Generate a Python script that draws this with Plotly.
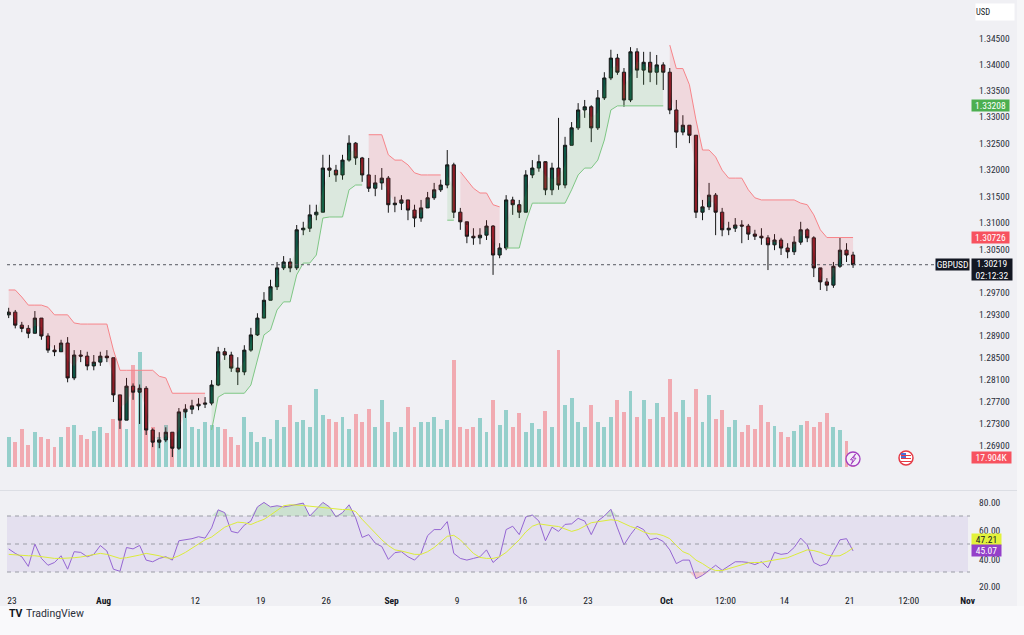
import math
import plotly.graph_objects as go

# ---------------- DATA (GBPUSD, 12h bars) ----------------
open_ = [1.2929, 1.2934, 1.2910, 1.2904, 1.2895, 1.2923, 1.2890, 1.2864, 1.2861, 1.2877,
         1.2813, 1.2855, 1.2853, 1.2835, 1.2842, 1.2853, 1.2850, 1.2782, 1.2736, 1.2798,
         1.2787, 1.2794, 1.2718, 1.2696, 1.2700, 1.2714, 1.2685, 1.2751, 1.2756, 1.2762,
         1.2765, 1.2767, 1.2800, 1.2861, 1.2855, 1.2831, 1.2824, 1.2864, 1.2892, 1.2923,
         1.2956, 1.2981, 1.3016, 1.3027, 1.3016, 1.3087, 1.3090, 1.3115, 1.3120, 1.3203,
         1.3199, 1.3190, 1.3218, 1.3250, 1.3222, 1.3190, 1.3165, 1.3175, 1.3184, 1.3134,
         1.3137, 1.3143, 1.3124, 1.3109, 1.3128, 1.3147, 1.3162, 1.3171, 1.3209, 1.3120,
         1.3102, 1.3075, 1.3072, 1.3077, 1.3094, 1.3040, 1.3053, 1.3143, 1.3134, 1.3120,
         1.3190, 1.3203, 1.3215, 1.3162, 1.3203, 1.3171, 1.3246, 1.3279, 1.3313, 1.3319,
         1.3279, 1.3336, 1.3374, 1.3412, 1.3385, 1.3332, 1.3424, 1.3389, 1.3404, 1.3385,
         1.3399, 1.3385, 1.3313, 1.3271, 1.3284, 1.3265, 1.3120, 1.3130, 1.3152, 1.3120,
         1.3087, 1.3090, 1.3096, 1.3094, 1.3079, 1.3075, 1.3072, 1.3059, 1.3068, 1.3053,
         1.3046, 1.3064, 1.3087, 1.3072, 1.3016, 1.2990, 1.2984, 1.3019, 1.3049, 1.3040]
high = [1.2942, 1.2938, 1.2916, 1.2910, 1.2936, 1.2923, 1.2895, 1.2873, 1.2883, 1.2888,
        1.2864, 1.2864, 1.2861, 1.2855, 1.2861, 1.2864, 1.2850, 1.2782, 1.2813, 1.2803,
        1.2801, 1.2798, 1.2721, 1.2714, 1.2723, 1.2714, 1.2758, 1.2765, 1.2773, 1.2776,
        1.2778, 1.2809, 1.2870, 1.2868, 1.2861, 1.2851, 1.2873, 1.2905, 1.2932, 1.2971,
        1.2994, 1.3027, 1.3038, 1.3034, 1.3096, 1.3102, 1.3134, 1.3134, 1.3228, 1.3228,
        1.3209, 1.3228, 1.3265, 1.3252, 1.3224, 1.3222, 1.3190, 1.3203, 1.3188, 1.3149,
        1.3152, 1.3143, 1.3134, 1.3143, 1.3158, 1.3175, 1.3181, 1.3237, 1.3213, 1.3128,
        1.3096, 1.3090, 1.3090, 1.3105, 1.3096, 1.3062, 1.3152, 1.3149, 1.3143, 1.3199,
        1.3218, 1.3228, 1.3213, 1.3213, 1.3298, 1.3262, 1.3290, 1.3326, 1.3332, 1.3322,
        1.3351, 1.3385, 1.3428, 1.3420, 1.3393, 1.3433, 1.3431, 1.3424, 1.3424, 1.3418,
        1.3404, 1.3393, 1.3332, 1.3303, 1.3284, 1.3265, 1.3143, 1.3175, 1.3156, 1.3128,
        1.3102, 1.3109, 1.3105, 1.3098, 1.3087, 1.3090, 1.3077, 1.3079, 1.3072, 1.3062,
        1.3075, 1.3102, 1.3090, 1.3075, 1.3012, 1.2997, 1.3027, 1.3072, 1.3062, 1.3046]
low = [1.2923, 1.2904, 1.2897, 1.2886, 1.2895, 1.2883, 1.2859, 1.2853, 1.2861, 1.2805,
       1.2809, 1.2842, 1.2827, 1.2827, 1.2835, 1.2842, 1.2769, 1.2720, 1.2736, 1.2773,
       1.2729, 1.2709, 1.2687, 1.2685, 1.2696, 1.2669, 1.2682, 1.2740, 1.2747, 1.2754,
       1.2758, 1.2763, 1.2798, 1.2846, 1.2824, 1.2800, 1.2818, 1.2861, 1.2890, 1.2923,
       1.2956, 1.2975, 1.3012, 1.3008, 1.3012, 1.3077, 1.3083, 1.3105, 1.3120, 1.3186,
       1.3177, 1.3181, 1.3215, 1.3209, 1.3177, 1.3158, 1.3150, 1.3162, 1.3119, 1.3120,
       1.3124, 1.3105, 1.3092, 1.3102, 1.3128, 1.3143, 1.3158, 1.3165, 1.3109, 1.3087,
       1.3062, 1.3059, 1.3060, 1.3068, 1.3003, 1.3034, 1.3049, 1.3115, 1.3109, 1.3120,
       1.3184, 1.3196, 1.3152, 1.3152, 1.3162, 1.3165, 1.3246, 1.3275, 1.3298, 1.3252,
       1.3275, 1.3332, 1.3370, 1.3380, 1.3319, 1.3328, 1.3374, 1.3361, 1.3366, 1.3361,
       1.3351, 1.3305, 1.3241, 1.3265, 1.3250, 1.3109, 1.3105, 1.3124, 1.3077, 1.3075,
       1.3077, 1.3083, 1.3062, 1.3068, 1.3068, 1.3059, 1.3012, 1.3049, 1.3040, 1.3034,
       1.3040, 1.3059, 1.3064, 1.2999, 1.2975, 1.2973, 1.2979, 1.3016, 1.3027, 1.3016]
close = [1.2934, 1.2910, 1.2904, 1.2895, 1.2923, 1.2890, 1.2864, 1.2861, 1.2877, 1.2813,
         1.2855, 1.2853, 1.2835, 1.2842, 1.2853, 1.2850, 1.2782, 1.2736, 1.2798, 1.2787,
         1.2794, 1.2718, 1.2696, 1.2700, 1.2714, 1.2685, 1.2751, 1.2756, 1.2762, 1.2765,
         1.2767, 1.2800, 1.2861, 1.2855, 1.2831, 1.2824, 1.2864, 1.2892, 1.2923, 1.2956,
         1.2981, 1.3016, 1.3027, 1.3016, 1.3087, 1.3090, 1.3115, 1.3120, 1.3203, 1.3199,
         1.3190, 1.3218, 1.3250, 1.3222, 1.3190, 1.3165, 1.3175, 1.3184, 1.3134, 1.3137,
         1.3143, 1.3124, 1.3109, 1.3128, 1.3147, 1.3162, 1.3171, 1.3209, 1.3120, 1.3102,
         1.3075, 1.3072, 1.3077, 1.3094, 1.3040, 1.3053, 1.3143, 1.3134, 1.3120, 1.3190,
         1.3203, 1.3215, 1.3162, 1.3203, 1.3171, 1.3246, 1.3279, 1.3313, 1.3319, 1.3279,
         1.3336, 1.3374, 1.3412, 1.3385, 1.3332, 1.3424, 1.3389, 1.3404, 1.3385, 1.3399,
         1.3385, 1.3313, 1.3271, 1.3284, 1.3265, 1.3120, 1.3130, 1.3152, 1.3120, 1.3087,
         1.3090, 1.3096, 1.3094, 1.3079, 1.3075, 1.3072, 1.3059, 1.3068, 1.3053, 1.3046,
         1.3064, 1.3087, 1.3072, 1.3016, 1.2990, 1.2984, 1.3019, 1.3049, 1.3040, 1.30219]

volume_k = [54, 45, 68, 40, 63, 54, 50, 36, 54, 72,
            76, 58, 50, 65, 72, 61, 86, 99, 68, 184,
            207, 81, 72, 54, 76, 63, 86, 103, 72, 68,
            81, 76, 72, 68, 54, 40, 90, 63, 45, 54,
            50, 85, 72, 112, 81, 85, 72, 140, 94, 86,
            81, 90, 68, 95, 81, 104, 72, 121, 81, 63,
            72, 108, 72, 81, 81, 90, 68, 85, 193, 72,
            68, 72, 88, 63, 121, 76, 103, 72, 97, 63,
            79, 68, 101, 72, 211, 112, 124, 81, 72, 112,
            81, 72, 90, 121, 99, 137, 90, 121, 86, 115,
            90, 158, 99, 121, 90, 140, 81, 130, 86, 103,
            72, 85, 63, 76, 68, 112, 81, 74, 63, 54,
            65, 76, 83, 72, 81, 97, 72, 67, 47, 17.904]

N_ = None
supertrend_up = [N_] * 31 + [1.2718, 1.2778, 1.2785, 1.2785, 1.2785, 1.2785, 1.2800, 1.2846, 1.2892,
                             1.2901, 1.2938, 1.2953, 1.2953, 1.3003, 1.3025, 1.3025, 1.3040, 1.3109, 1.3111,
                             1.3111, 1.3111, 1.3162, 1.3171, 1.3171] \
    + [N_] * 12 + [1.3105, 1.3105] + [N_] * 7 \
    + [1.3053, 1.3053, 1.3053, 1.3102, 1.3137, 1.3137, 1.3137, 1.3137, 1.3137, 1.3137,
       1.3162, 1.3190, 1.3203, 1.3203, 1.3218, 1.3256, 1.3313, 1.33208, 1.33208, 1.33208,
       1.33208, 1.33208, 1.33208, 1.33208, 1.33208] + [N_] * 29
supertrend_dn = [1.2975, 1.2975, 1.2962, 1.2947, 1.2947, 1.2947, 1.2943, 1.2929, 1.2929, 1.2929,
                 1.2914, 1.2912, 1.2912, 1.2912, 1.2912, 1.2912, 1.2864, 1.2827, 1.2827, 1.2827,
                 1.2827, 1.2827, 1.2827, 1.2816, 1.2813, 1.2785, 1.2785, 1.2785, 1.2785, 1.2785,
                 1.2785] + [N_] * 24 \
    + [1.3266, 1.3266, 1.3266, 1.3228, 1.3218, 1.3218, 1.3209, 1.3194, 1.3190, 1.3190,
       1.3190, 1.3190] + [N_] * 2 \
    + [1.3196, 1.3181, 1.3165, 1.3156, 1.3156, 1.3134, 1.3130] + [N_] * 25 \
    + [1.3437, 1.3392, 1.3392, 1.3361, 1.3294, 1.3237, 1.3237, 1.3224, 1.3199, 1.3184,
       1.3184, 1.3184, 1.3162, 1.3147, 1.3143, 1.3143, 1.3143, 1.3143, 1.3143, 1.3143,
       1.3137, 1.3134, 1.3115, 1.3087, 1.30726, 1.30726, 1.30726, 1.30726, 1.30726]

rsi = [46.5, 43.3, 40.9, 34.0, 50.0, 39.7, 34.8, 36.8, 41.6, 32.0,
       44.5, 44.0, 40.9, 42.6, 48.9, 45.0, 32.0, 30.5, 47.5, 46.5,
       49.0, 38.5, 37.3, 39.7, 40.9, 38.5, 52.3, 53.0, 53.8, 55.2,
       54.2, 61.5, 74.4, 72.4, 59.0, 57.9, 63.5, 66.4, 76.5, 79.7,
       76.5, 77.3, 76.5, 77.3, 78.5, 79.2, 70.0, 74.8, 79.7, 76.5,
       69.3, 72.4, 78.0, 68.8, 54.7, 56.7, 50.6, 48.2, 39.0, 43.8,
       44.5, 40.9, 38.5, 43.3, 56.0, 60.3, 60.3, 66.0, 43.3, 39.7,
       38.5, 39.7, 40.9, 45.8, 36.8, 40.9, 60.3, 62.7, 56.7, 69.3,
       70.7, 66.4, 52.3, 62.0, 59.0, 64.0, 64.4, 68.3, 66.4, 56.7,
       66.4, 70.0, 74.8, 61.5, 49.4, 56.7, 62.7, 60.3, 53.0, 54.2,
       51.8, 45.8, 36.0, 38.5, 38.5, 25.2, 27.6, 31.2, 34.8, 31.2,
       34.4, 37.3, 37.3, 36.8, 35.3, 37.3, 33.0, 44.0, 42.6, 43.3,
       47.5, 54.2, 49.4, 36.8, 34.4, 36.0, 44.5, 53.0, 53.8, 45.07]
rsi_ma = [42.6, 42.1, 41.6, 41.6, 41.6, 40.9, 40.2, 39.7, 39.7, 39.7,
          40.2, 40.7, 41.4, 42.6, 43.3, 42.6, 40.9, 39.7, 40.2, 40.9,
          42.1, 43.3, 42.6, 41.6, 40.2, 39.7, 41.6, 44.0, 47.0, 49.9,
          53.0, 55.0, 58.6, 62.0, 63.9, 65.6, 65.2, 63.9, 65.9, 67.6,
          70.7, 74.1, 77.3, 78.0, 78.0, 77.5, 77.0, 76.5, 76.0, 75.3,
          74.8, 74.6, 74.6, 73.2, 67.6, 62.7, 57.9, 53.0, 48.9, 45.8,
          45.0, 44.0, 42.6, 42.6, 44.5, 47.5, 51.8, 55.5, 56.2, 53.0,
          48.2, 43.3, 40.4, 39.7, 39.7, 40.9, 44.0, 48.2, 53.0, 58.6,
          62.7, 64.4, 63.5, 63.0, 62.5, 61.0, 59.0, 60.3, 62.7, 65.2,
          65.9, 66.4, 67.3, 66.8, 64.4, 62.5, 61.0, 58.6, 57.2, 57.2,
          56.0, 53.8, 48.9, 44.5, 42.6, 38.5, 36.0, 32.9, 31.0, 31.0,
          32.4, 33.6, 34.8, 36.5, 36.8, 36.8, 37.8, 38.5, 39.2, 40.2,
          42.1, 44.0, 45.8, 45.3, 44.0, 42.1, 41.4, 41.6, 44.0, 47.21]

time_tick_pos = [0, 7, 14, 19, 24, 29, 34, 39, 44, 50, 54.5, 59, 64, 68.5, 73]
time_tick_text = ["23", "<b>Aug</b>", "12", "19", "26", "<b>Sep</b>", "9", "16", "23",
                  "<b>Oct</b>", "12:00", "14", "21", "12:00", "<b>Nov</b>"]
price_ticks = [1.345, 1.340, 1.335, 1.330, 1.325, 1.320, 1.315, 1.310, 1.305,
               1.297, 1.293, 1.289, 1.285, 1.281, 1.277, 1.273, 1.269]
rsi_ticks = [80, 60, 40, 20]
last_price = 1.30219
last_up = 1.33208
last_dn = 1.30726
last_volume = "17.904K"
countdown = "02:12:32"

# ---------------- LAYOUT GEOMETRY ----------------
W, H = 1024, 635
ML, MR, MT, MB = 7, 56, 0, 42
PW, PH = W - ML - MR, H - MT - MB


def px2x(px):
    return (px - ML) / PW


def py2y(py):
    return (H - MB - py) / PH


BG = "#f0f0f4"
FONT = "Liberation Sans Narrow, Roboto Condensed, Roboto, Arial, sans-serif"
XR = [-0.38, 73.03]
MAIN_D0 = (H - MB - 489) / PH
RSI_D1 = (H - MB - 492) / PH
P_TOP = 1.345 * math.exp(38.3 / 7000)
P_BOT = 1.345 * math.exp(-(489 - 38.3) / 7000)
VOL_RANGE = [-22 * 1.8, 467 * 1.8]
RSI_RANGE = [15.0, 87.14]

n = len(close)
t = [-0.25 + 0.5 * i for i in range(n)]
mid = [(o + c) / 2 for o, c in zip(open_, close)]

fig = go.Figure()

# volume (base axis, drawn under price)
vol_colors = ["rgba(38,166,154,0.45)" if c >= o else "rgba(242,54,69,0.38)"
              for o, c in zip(open_, close)]
fig.add_trace(go.Bar(x=t, y=volume_k, width=0.30, marker=dict(color=vol_colors, line=dict(width=0)),
                     xaxis="x", yaxis="y", hoverinfo="skip"))


def segments(vals):
    segs, cur = [], []
    for i, v in enumerate(vals):
        if v is None:
            if cur:
                segs.append(cur)
                cur = []
        else:
            cur.append(i)
    if cur:
        segs.append(cur)
    return segs


for vals, lc, fc in [(supertrend_up, "#7fc785", "rgba(76,175,80,0.13)"),
                     (supertrend_dn, "#f7858a", "rgba(242,54,69,0.13)")]:
    for seg in segments(vals):
        xs = [t[i] for i in seg]
        fig.add_trace(go.Scatter(x=xs, y=[mid[i] for i in seg], mode="lines", line=dict(width=0),
                                 xaxis="x", yaxis="y3", hoverinfo="skip"))
        fig.add_trace(go.Scatter(x=xs, y=[vals[i] for i in seg], mode="lines",
                                 line=dict(color=lc, width=1), fill="tonexty", fillcolor=fc,
                                 xaxis="x", yaxis="y3", hoverinfo="skip"))

fig.add_trace(go.Candlestick(
    x=t, open=open_, high=high, low=low, close=close, xaxis="x", yaxis="y3",
    increasing=dict(line=dict(color="#161616", width=1), fillcolor="#0e5545"),
    decreasing=dict(line=dict(color="#161616", width=1), fillcolor="#8c1c26"),
    whiskerwidth=0, hoverinfo="skip"))

fig.add_trace(go.Scatter(x=XR, y=[last_price, last_price], mode="lines",
                         line=dict(color="#55585f", width=1, dash="dot"),
                         xaxis="x", yaxis="y3", hoverinfo="skip"))

# RSI pane
fig.add_trace(go.Scatter(x=t, y=[70] * n, mode="lines", line=dict(width=0), xaxis="x2", yaxis="y2",
                         hoverinfo="skip"))
fig.add_trace(go.Scatter(x=t, y=[max(v, 70) for v in rsi], mode="lines", line=dict(width=0),
                         fill="tonexty", fillcolor="rgba(76,175,80,0.22)", xaxis="x2", yaxis="y2",
                         hoverinfo="skip"))
fig.add_trace(go.Scatter(x=t, y=[30] * n, mode="lines", line=dict(width=0), xaxis="x2", yaxis="y2",
                         hoverinfo="skip"))
fig.add_trace(go.Scatter(x=t, y=[min(v, 30) for v in rsi], mode="lines", line=dict(width=0),
                         fill="tonexty", fillcolor="rgba(242,54,69,0.22)", xaxis="x2", yaxis="y2",
                         hoverinfo="skip"))
fig.add_trace(go.Scatter(x=t, y=rsi, mode="lines", line=dict(color="#9566d3", width=1),
                         xaxis="x2", yaxis="y2", hoverinfo="skip"))
fig.add_trace(go.Scatter(x=t, y=rsi_ma, mode="lines", line=dict(color="#dcec3a", width=1),
                         xaxis="x2", yaxis="y2", hoverinfo="skip"))


def ppath(points):
    return "M " + " L ".join(f"{px2x(a):.5f},{py2y(b):.5f}" for a, b in points) + " Z"


shapes = [
    dict(type="rect", xref="paper", yref="y2", x0=0, x1=1, y0=30, y1=70,
         fillcolor="rgba(126,87,194,0.10)", line=dict(width=0), layer="below"),
    dict(type="rect", xref="paper", yref="paper", x0=px2x(0), x1=px2x(1024),
         y0=py2y(635), y1=py2y(606), fillcolor="#f9f9fb", line=dict(width=0), layer="below"),
    dict(type="rect", xref="paper", yref="paper", x0=px2x(1017), x1=px2x(1024),
         y0=py2y(606), y1=py2y(0), fillcolor="#f6f6f8", line=dict(width=0), layer="below"),
    dict(type="line", xref="paper", yref="paper", x0=px2x(0), x1=px2x(1017),
         y0=py2y(490.5), y1=py2y(490.5), line=dict(color="#dcdee4", width=1)),
    # lightning icon
    dict(type="circle", xref="paper", yref="paper", x0=px2x(846), x1=px2x(860),
         y0=py2y(466), y1=py2y(452), fillcolor="#f4eef8", line=dict(color="#a23fc0", width=1.3)),
    dict(type="path", xref="paper", yref="paper",
         path=ppath([(855.5, 454), (850.5, 459.8), (853.2, 459.8), (851, 464.5), (856, 458.2), (853.3, 458.2)]),
         fillcolor="rgba(0,0,0,0)", line=dict(color="#a23fc0", width=1)),
    # flag icon
    dict(type="circle", xref="paper", yref="paper", x0=px2x(899), x1=px2x(913),
         y0=py2y(465), y1=py2y(451), fillcolor="#ffffff", line=dict(color="#e53945", width=1.5)),
    dict(type="rect", xref="paper", yref="paper", x0=px2x(901), x1=px2x(906),
         y0=py2y(458), y1=py2y(453), fillcolor="#4a6fd8", line=dict(width=0)),
]
for lvl in (70, 50, 30):
    shapes.append(dict(type="line", xref="paper", yref="y2", x0=0, x1=px2x(970), y0=lvl, y1=lvl,
                       line=dict(color="#9a9ca5", width=1, dash="4px,4px")))
for yy in (455.5, 458.5, 461.5):
    shapes.append(dict(type="line", xref="paper", yref="paper", x0=px2x(901), x1=px2x(911),
                       y0=py2y(yy), y1=py2y(yy), line=dict(color="#e53945", width=1)))

ann = []
LABEL_X = px2x(977)
for v in price_ticks:
    ann.append(dict(xref="paper", x=LABEL_X, xanchor="left", yref="y3", y=math.log10(v),
                    text=f"{v:.5f}", showarrow=False, font=dict(size=9.5, color="#2a2e39")))
for v in rsi_ticks:
    ann.append(dict(xref="paper", x=LABEL_X, xanchor="left", yref="y2", y=v,
                    yshift=-1 if v == 40 else 0,
                    text=f"{v:.2f}", showarrow=False, font=dict(size=9.5, color="#2a2e39")))


def box(text, yref, y, bg, fg="#ffffff", w=37, h=11, yshift=0, x=px2x(971), xanchor="left"):
    return dict(xref="paper", x=x, xanchor=xanchor, yref=yref, y=y, yshift=yshift, text=text,
                showarrow=False, bgcolor=bg, width=w, height=h, borderpad=0, align="center",
                font=dict(size=9.5, color=fg))


ann += [
    box(f"{last_up:.5f}", "y3", math.log10(last_up), "#4caf50"),
    box(f"{last_dn:.5f}", "y3", math.log10(last_dn), "#f7525f"),
    box(f"{last_price:.5f}<br>{countdown}", "y3", math.log10(last_price), "#131722",
        w=40, h=21, yshift=-5),
    box("GBPUSD", "y3", math.log10(last_price), "#131722", w=33, x=px2x(969.5), xanchor="right"),
    box(last_volume, "y", float(last_volume[:-1]), "#f7525f", w=39),
    box(f"{rsi_ma[-1]:.2f}", "y2", rsi_ma[-1], "#e2f23a", fg="#131722", w=29, yshift=8),
    box(f"{rsi[-1]:.2f}", "y2", rsi[-1], "#9440c9", w=29),
    dict(xref="paper", x=px2x(975), xanchor="left", yref="paper", y=py2y(3), yanchor="top",
         text="USD", showarrow=False, bgcolor="#ffffff", width=38, height=16, align="left",
         borderpad=0, font=dict(size=8.5, color="#131722")),
    dict(xref="paper", x=px2x(7), xanchor="left", yref="paper", y=py2y(622), text="<b>TV</b>",
         showarrow=False, font=dict(size=10.5, color="#131722", family="Roboto")),
    dict(xref="paper", x=px2x(24), xanchor="left", yref="paper", y=py2y(622), text="TradingView",
         showarrow=False, font=dict(size=10.5, color="#2a2e39", family="Roboto")),
]

fig.update_layout(
    width=W, height=H, margin=dict(l=ML, r=MR, t=MT, b=MB),
    paper_bgcolor=BG, plot_bgcolor=BG, showlegend=False,
    font=dict(family=FONT, size=9.5, color="#131722"),
    xaxis=dict(domain=[0, 1], range=XR, anchor="y", showgrid=False, zeroline=False,
               showticklabels=False, rangeslider=dict(visible=False), fixedrange=True),
    xaxis2=dict(domain=[0, 1], range=XR, anchor="y2", showgrid=False, zeroline=False,
                tickmode="array", tickvals=time_tick_pos, ticktext=time_tick_text, ticks="",
                tickfont=dict(size=9.5, color="#131722")),
    yaxis=dict(domain=[MAIN_D0, 1], range=VOL_RANGE, visible=False, fixedrange=True),
    yaxis3=dict(overlaying="y", anchor="x", type="log",
                range=[math.log10(P_BOT), math.log10(P_TOP)], visible=False, fixedrange=True),
    yaxis2=dict(domain=[0, RSI_D1], range=RSI_RANGE, anchor="x2", visible=False, fixedrange=True),
    shapes=shapes, annotations=ann, bargap=0,
)

fig.write_html(
    "out.html",
    config={"displayModeBar": False},
    post_script="document.body.style.margin='0px';document.body.style.padding='0px';"
                "document.body.style.background='#f0f0f4';"
                "document.documentElement.style.overflow='hidden';",
)
